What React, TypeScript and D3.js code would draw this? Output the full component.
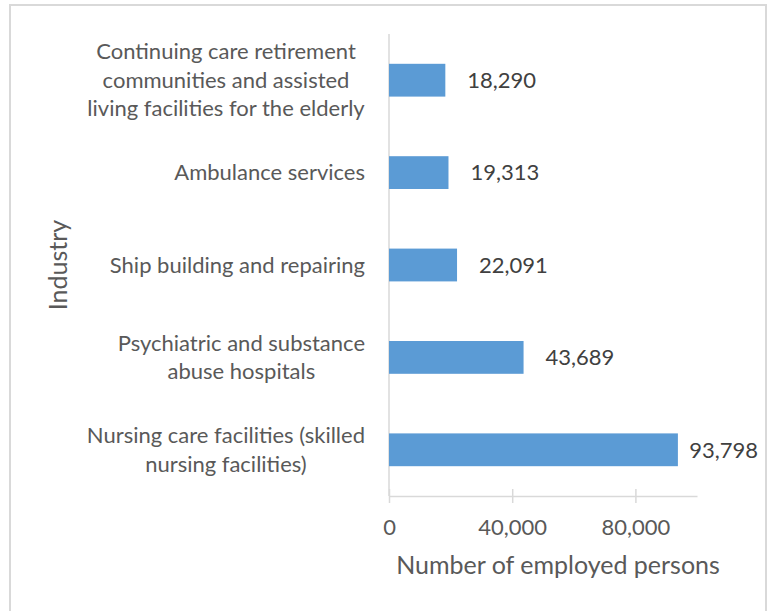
import React, { useRef, useEffect } from 'react';
import * as d3 from 'd3';

// top to bottom, as drawn
const industries = [
  'Continuing care retirement\ncommunities and assisted\nliving facilities for the elderly',
  'Ambulance services',
  'Ship building and repairing',
  'Psychiatric and substance\nabuse hospitals',
  'Nursing care facilities (skilled\nnursing facilities)',
];
const employed = [18290, 19313, 22091, 43689, 93798];
const xTicks = [0, 40000, 80000];
const xMax = 100000;

const FONT = 'Lato, "Open Sans", sans-serif';

const App: React.FC = () => {
  const ref = useRef<SVGSVGElement | null>(null);

  useEffect(() => {
    document.body.style.margin = '0';
    if (!ref.current) return;
    const svg = d3.select(ref.current);
    svg.selectAll('*').remove();

    const width = 771;
    const height = 611;
    const plot = { left: 389, right: 697, top: 34, bottom: 496 };
    const fontSize = 22;
    const titleSize = 25;

    svg.append('rect')
      .attr('width', width).attr('height', height).attr('fill', '#fff');

    // chart border
    svg.append('rect')
      .attr('x', 10).attr('y', 5)
      .attr('width', 756).attr('height', 640)
      .attr('fill', 'none')
      .attr('stroke', '#d9d9d9')
      .attr('stroke-width', 2);

    const x = d3.scaleLinear().domain([0, xMax]).range([plot.left, plot.right]);
    const y = d3.scaleBand<string>()
      .domain(industries)
      .range([plot.top, plot.bottom])
      .paddingInner(0.645)
      .paddingOuter(0.3225);

    // axes lines
    svg.append('line')
      .attr('x1', plot.left).attr('x2', plot.left)
      .attr('y1', plot.top).attr('y2', plot.bottom)
      .attr('stroke', '#d9d9d9').attr('stroke-width', 1.5);

    const xAxis = d3.axisBottom(x)
      .tickValues(xTicks)
      .tickSize(0)
      .tickFormat(d => d3.format(',')(d as number));
    const gx = svg.append('g')
      .attr('transform', `translate(0,${plot.bottom})`)
      .call(xAxis);
    gx.select('.domain').attr('stroke', '#d9d9d9').attr('stroke-width', 1.5);
    gx.selectAll('.tick line')
      .attr('y1', -7).attr('y2', 7)
      .attr('stroke', '#d9d9d9').attr('stroke-width', 1.5);
    gx.selectAll('.tick text')
      .attr('y', 39).attr('dy', 0)
      .attr('fill', '#595959')
      .style('font-family', FONT)
      .style('font-size', `${fontSize}px`);

    // bars
    svg.selectAll('.bar')
      .data(employed)
      .enter()
      .append('rect')
      .attr('class', 'bar')
      .attr('x', x(0))
      .attr('y', (_, i) => y(industries[i]) as number)
      .attr('width', d => x(d) - x(0))
      .attr('height', y.bandwidth())
      .attr('fill', '#5b9bd5');

    // value labels
    employed.forEach((v, i) => {
      const t = svg.append('text')
        .attr('y', (y(industries[i]) as number) + y.bandwidth() / 2)
        .attr('dy', '0.35em')
        .attr('fill', '#404040')
        .style('font-family', FONT)
        .style('font-size', `${fontSize}px`)
        .text(d3.format(',')(v));
      const w = (t.node() as SVGTextElement).getComputedTextLength();
      t.attr('x', Math.min(x(v) + 22, 758 - w));
    });

    // category labels, lines centred, block right-aligned
    const lineH = 28.5;
    industries.forEach(name => {
      const lines = name.split('\n');
      const cy = (y(name) as number) + y.bandwidth() / 2;
      const t = svg.append('text')
        .attr('text-anchor', 'middle')
        .attr('fill', '#595959')
        .style('font-family', FONT)
        .style('font-size', `${fontSize}px`);
      lines.forEach((ln, j) => {
        t.append('tspan')
          .attr('x', 0)
          .attr('y', cy + (j - (lines.length - 1) / 2) * lineH)
          .attr('dy', '0.35em')
          .text(ln);
      });
      const w = (t.node() as SVGTextElement).getBBox().width;
      t.attr('transform', `translate(${365 - w / 2},0)`);
    });

    // axis titles
    svg.append('text')
      .attr('transform', `translate(67,${(plot.top + plot.bottom) / 2}) rotate(-90)`)
      .attr('text-anchor', 'middle')
      .attr('fill', '#595959')
      .style('font-family', FONT)
      .style('font-size', `${titleSize}px`)
      .text('Industry');

    svg.append('text')
      .attr('x', 558).attr('y', 574)
      .attr('text-anchor', 'middle')
      .attr('fill', '#595959')
      .style('font-family', FONT)
      .style('font-size', `${titleSize}px`)
      .text('Number of employed persons');
  }, []);

  return <svg ref={ref} width={771} height={611} style={{ display: 'block' }} />;
};

export default App;
